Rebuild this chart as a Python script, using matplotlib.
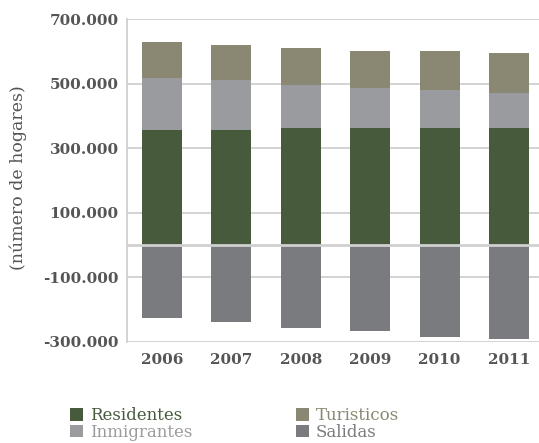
import matplotlib
matplotlib.use("Agg")
import matplotlib.pyplot as plt
import numpy as np

years = ["2006", "2007", "2008", "2009", "2010", "2011"]
residentes = [356000, 356000, 362000, 362000, 362000, 362000]
inmigrantes = [162000, 155000, 134000, 125000, 119000, 109000]
turisticos = [112000, 110000, 115000, 115000, 121000, 125000]
salidas = [-228000, -240000, -257000, -268000, -285000, -293000]
yticks = [-300000, -100000, 100000, 300000, 500000, 700000]
ytick_labels = ["-300.000", "-100.000", "100.000", "300.000", "500.000", "700.000"]

c_res = "#475a3c"
c_inm = "#9a9b9f"
c_tur = "#8a8872"
c_sal = "#7a7b7f"
txt = "#555555"
grid = "#d0d0d0"

fig = plt.figure(figsize=(5.39, 4.43), dpi=100)
ax = fig.add_axes([127/539, 1-341.7/443, 1-127/539, (341.7-19.3)/443])

x = np.arange(len(years))
w = 0.575
res = np.array(residentes)
inm = np.array(inmigrantes)
tur = np.array(turisticos)
h1 = ax.bar(x, res, w, color=c_res, zorder=3, label="Residentes")
h2 = ax.bar(x, inm, w, bottom=res, color=c_inm, zorder=3, label="Inmigrantes")
h3 = ax.bar(x, tur, w, bottom=res+inm, color=c_tur, zorder=3, label="Turisticos")
h4 = ax.bar(x, salidas, w, color=c_sal, zorder=3, label="Salidas")

ax.set_ylim(-300000, 700000)
ax.set_xlim(-0.5, 5.43)
ax.set_yticks(yticks)
ax.set_yticklabels(ytick_labels)
ax.set_xticks(x)
ax.set_xticklabels(years)
for t in ax.get_yticklabels() + ax.get_xticklabels():
    t.set_fontfamily("DejaVu Serif")
    t.set_fontweight("bold")
    t.set_fontsize(11)
    t.set_color(txt)
ax.tick_params(axis="both", length=0)
ax.tick_params(axis="y", pad=6)
ax.tick_params(axis="x", pad=8)
ax.yaxis.grid(True, color=grid, lw=1.3, zorder=0)
ax.axhline(0, color=grid, lw=2.0, zorder=4)
for s in ["top", "right", "bottom"]:
    ax.spines[s].set_visible(False)
ax.spines["left"].set_color(grid)
ax.spines["left"].set_linewidth(1.3)

fig.text(18/539, 1-178/443, "(número de hogares)", rotation=90, ha="center", va="center",
         fontfamily="DejaVu Serif", fontsize=12.5, color=txt)

leg = fig.legend(handles=[h1, h2, h3, h4], labels=["Residentes", "Inmigrantes", "Turisticos", "Salidas"],
                 ncol=2, loc="upper left", bbox_to_anchor=(62/539, 1-399/443), frameon=False,
                 handlelength=0.75, handleheight=0.75, handletextpad=0.45, columnspacing=6.2,
                 labelspacing=-0.02, borderpad=0, prop={"family": "DejaVu Serif", "size": 12},
                 labelcolor=[c_res, c_inm, c_tur, c_sal])

fig.savefig("out.png", dpi=100)
